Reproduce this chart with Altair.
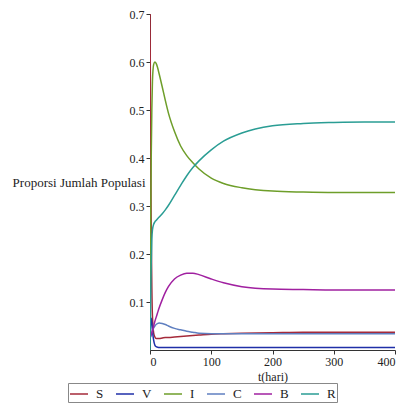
import altair as alt
import pandas as pd

t = [0, 1, 2, 3, 4, 6, 8, 10, 12, 15, 20, 25, 30, 40, 50, 60, 70, 80, 100, 120, 150, 200, 250, 300, 350, 400]

S = [0.72, 0.45, 0.25, 0.13, 0.07, 0.035, 0.027, 0.024, 0.024, 0.024, 0.025, 0.026, 0.026, 0.027, 0.028, 0.029,
     0.030, 0.031, 0.033, 0.034, 0.035, 0.036, 0.037, 0.037, 0.037, 0.037]
V = [0.02, 0.06, 0.066, 0.055, 0.04, 0.02, 0.01, 0.007, 0.006, 0.005, 0.005, 0.005, 0.005, 0.005, 0.005, 0.005,
     0.005, 0.005, 0.005, 0.005, 0.005, 0.005, 0.005, 0.005, 0.005, 0.005]
I = [0.1, 0.25, 0.4, 0.5, 0.56, 0.595, 0.6, 0.597, 0.59, 0.575, 0.548, 0.52, 0.494, 0.455, 0.425, 0.405,
     0.39, 0.377, 0.358, 0.347, 0.338, 0.331, 0.329, 0.328, 0.328, 0.328]
C = [0.025, 0.028, 0.032, 0.036, 0.04, 0.046, 0.05, 0.053, 0.055, 0.056, 0.055, 0.053, 0.05, 0.045, 0.042, 0.039,
     0.037, 0.035, 0.034, 0.034, 0.034, 0.034, 0.034, 0.034, 0.034, 0.034]
B = [0.025, 0.028, 0.032, 0.036, 0.04, 0.05, 0.06, 0.068, 0.076, 0.088, 0.105, 0.12, 0.132, 0.148, 0.156, 0.16,
     0.16, 0.157, 0.148, 0.14, 0.132, 0.127, 0.126, 0.125, 0.125, 0.125]
R = [0.0, 0.1, 0.18, 0.23, 0.25, 0.262, 0.267, 0.27, 0.273, 0.277, 0.284, 0.292, 0.301, 0.322, 0.343, 0.363,
     0.38, 0.394, 0.417, 0.435, 0.452, 0.467, 0.472, 0.474, 0.475, 0.475]

names = ["S", "V", "I", "C", "B", "R"]
colors = ["#A52A3A", "#1F2FA8", "#6E9E2A", "#5F7FC0", "#A020A0", "#2A9D94"]
series = {"S": S, "V": V, "I": I, "C": C, "B": B, "R": R}

rows = []
for n in names:
    for tt, v in zip(t, series[n]):
        rows.append({"t": tt, "value": v, "var": n})
df = pd.DataFrame(rows)

FONT = "Liberation Serif, Times New Roman, serif"

chart = alt.Chart(df).mark_line(strokeWidth=1.5, clip=True, interpolate="monotone").encode(
    x=alt.X("t:Q", scale=alt.Scale(domain=[0, 400], nice=False),
            axis=alt.Axis(title="t(hari)", values=[0, 100, 200, 300, 400], grid=False,
                          titleFontWeight="normal", titleFont=FONT, titleFontSize=12,
                          titlePadding=4, labelFont=FONT, labelFontSize=12, domainColor="#333",
                          tickColor="#333", tickSize=4, labelColor="#222", titleColor="#222")),
    y=alt.Y("value:Q", scale=alt.Scale(domain=[0, 0.7], nice=False),
            axis=alt.Axis(title="Proporsi Jumlah Populasi", values=[0.1, 0.2, 0.3, 0.4, 0.5, 0.6, 0.7],
                          format=".1f", grid=False, titleAngle=0, titleAlign="right", titleBaseline="middle",
                          titleX=-5, titleY=168, titleFontWeight="normal", titleFont=FONT, titleFontSize=13,
                          labelFont=FONT, labelFontSize=12, domainColor="#333", tickColor="#333",
                          tickSize=4, labelColor="#222", titleColor="#222")),
    color=alt.Color("var:N", scale=alt.Scale(domain=names, range=colors),
                    legend=alt.Legend(title=None, orient="none", legendX=-82, legendY=369,
                                      direction="horizontal", columns=6, symbolType="stroke",
                                      symbolSize=324, symbolStrokeWidth=1.5, labelFont=FONT,
                                      labelFontSize=13, labelColor="#222", columnPadding=9,
                                      labelOffset=7, strokeColor="#888", padding=1)),
).properties(
    width=245, height=336,
    autosize=alt.AutoSizeParams(type="none"),
    padding={"left": 142, "top": 6, "right": 9, "bottom": 54},
).configure(font=FONT).configure_view(stroke=None)

chart.save("out.html", embed_options={"renderer": "svg", "actions": False})
